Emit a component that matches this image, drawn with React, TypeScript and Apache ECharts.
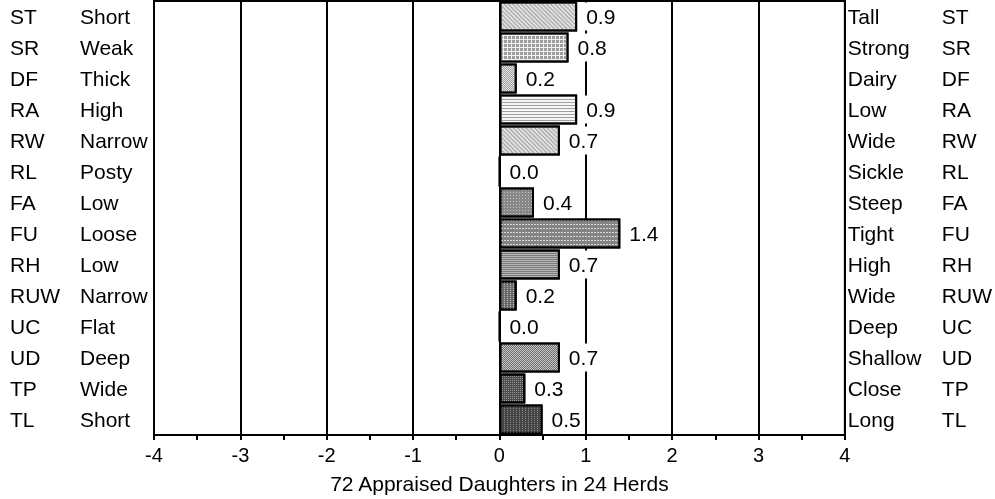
import React, { useEffect, useRef } from "react";
import * as echarts from "echarts";

const codes = ["ST", "SR", "DF", "RA", "RW", "RL", "FA", "FU", "RH", "RUW", "UC", "UD", "TP", "TL"];
const lowWords = ["Short", "Weak", "Thick", "High", "Narrow", "Posty", "Low", "Loose", "Low", "Narrow", "Flat", "Deep", "Wide", "Short"];
const highWords = ["Tall", "Strong", "Dairy", "Low", "Wide", "Sickle", "Steep", "Tight", "High", "Wide", "Deep", "Shallow", "Close", "Long"];
const values = [0.9, 0.8, 0.2, 0.9, 0.7, 0.0, 0.4, 1.4, 0.7, 0.2, 0.0, 0.7, 0.3, 0.5];
const xTicks = [-4, 4, 1];
const axisTitle = "72 Appraised Daughters in 24 Herds";

const FONT = "'Liberation Sans', Arial, sans-serif";

const diag = (bg: string, fg: string) => ({
  symbol: "rect", symbolSize: 1, color: fg, backgroundColor: bg,
  dashArrayX: [1, 0], dashArrayY: [1, 2], rotation: Math.PI / 4,
});
const decals: any[] = [
  diag("#e0e0e0", "#a0a0a0"),
  { symbol: "rect", symbolSize: 1, color: "#9c9c9c", backgroundColor: "#f0f0f0", dashArrayX: [3, 1], dashArrayY: [3, 1] },
  { symbol: "rect", symbolSize: 1, color: "#a0a0a0", backgroundColor: "#e4e4e4", dashArrayX: [[1, 1], [0, 1, 1, 0]], dashArrayY: [1, 0] },
  { symbol: "rect", symbolSize: 1, color: "#a0a0a0", backgroundColor: "#f6f6f6", dashArrayX: [1, 0], dashArrayY: [1, 2] },
  diag("#e0e0e0", "#a0a0a0"),
  null,
  { symbol: "rect", symbolSize: 1, color: "#c4c4c4", backgroundColor: "#888888", dashArrayX: [1, 2], dashArrayY: [1, 2] },
  { symbol: "rect", symbolSize: 1, color: "#d4d4d4", backgroundColor: "#848484", dashArrayX: [2, 1], dashArrayY: [1, 3] },
  { symbol: "rect", symbolSize: 1, color: "#b4b4b4", backgroundColor: "#7e7e7e", dashArrayX: [1, 0], dashArrayY: [1, 1] },
  { symbol: "rect", symbolSize: 1, color: "#bcbcbc", backgroundColor: "#6a6a6a", dashArrayX: [1, 2], dashArrayY: [1, 1] },
  null,
  { symbol: "rect", symbolSize: 1, color: "#6c6c6c", backgroundColor: "#c8c8c8", dashArrayX: [[1, 1], [0, 1, 1, 0]], dashArrayY: [1, 0] },
  { symbol: "rect", symbolSize: 1, color: "#9a9a9a", backgroundColor: "#4a4a4a", dashArrayX: [1, 1], dashArrayY: [1, 1] },
  { symbol: "rect", symbolSize: 1, color: "#8e8e8e", backgroundColor: "#444444", dashArrayX: [1, 2], dashArrayY: [1, 1] },
];

export default function App() {
  const ref = useRef<HTMLDivElement>(null);
  useEffect(() => {
    if (!ref.current) return;
    const chart = echarts.init(ref.current, undefined, { renderer: "svg" });
    const labelText = { fontSize: 21, fontFamily: FONT, color: "#000" };
    chart.setOption({
      animation: false,
      textStyle: { fontFamily: FONT },
      grid: { left: 154, right: 147, top: 1, bottom: 56, show: true, borderColor: "#000", borderWidth: 2, containLabel: false },
      xAxis: {
        type: "value", min: xTicks[0], max: xTicks[1], interval: xTicks[2],
        name: axisTitle, nameLocation: "middle", nameGap: 38,
        nameTextStyle: { ...labelText },
        axisLine: { show: true, onZero: false, lineStyle: { color: "#000", width: 2 } },
        axisTick: { show: true, length: 5, lineStyle: { color: "#000", width: 2 } },
        minorTick: { show: true, splitNumber: 2, length: 5, lineStyle: { color: "#000", width: 2 } },
        axisLabel: { ...labelText, fontSize: 20, margin: 10 },
        splitLine: { show: true, lineStyle: { color: "#000", width: 2 } },
      },
      yAxis: [
        {
          type: "category", data: codes, inverse: true, position: "left",
          axisLine: { show: true, lineStyle: { color: "#000", width: 2 } },
          axisTick: { show: false },
          axisLabel: {
            align: "left", margin: 144,
            formatter: (_v: string, i: number) => `{c|${codes[i]}}{w|${lowWords[i]}}`,
            rich: { c: { ...labelText, width: 70 }, w: { ...labelText } },
          },
        },
        {
          type: "category", data: codes, inverse: true, position: "right",
          axisLine: { show: true, lineStyle: { color: "#000", width: 2 } },
          axisTick: { show: false },
          axisLabel: {
            align: "left", margin: 3,
            formatter: (_v: string, i: number) => `{w|${highWords[i]}}{c|${codes[i]}}`,
            rich: { w: { ...labelText, width: 94 }, c: { ...labelText } },
          },
        },
      ],
      series: [
        {
          type: "bar", yAxisIndex: 0, barCategoryGap: "4%",
          data: values.map((v, i) => ({
            value: v,
            itemStyle: {
              color: decals[i] ? decals[i].backgroundColor : "#fff",
              borderColor: "#000", borderWidth: 2,
              decal: decals[i] || undefined,
            },
          })),
          label: {
            show: true, position: "right", distance: 6,
            formatter: (p: any) => Number(p.value).toFixed(1),
            ...labelText, backgroundColor: "#fff", padding: [2, 3], lineHeight: 24,
          },
        },
      ],
    });
    return () => chart.dispose();
  }, []);
  return <div ref={ref} style={{ position: "fixed", left: 0, top: 0, width: 995, height: 499 }} />;
}
